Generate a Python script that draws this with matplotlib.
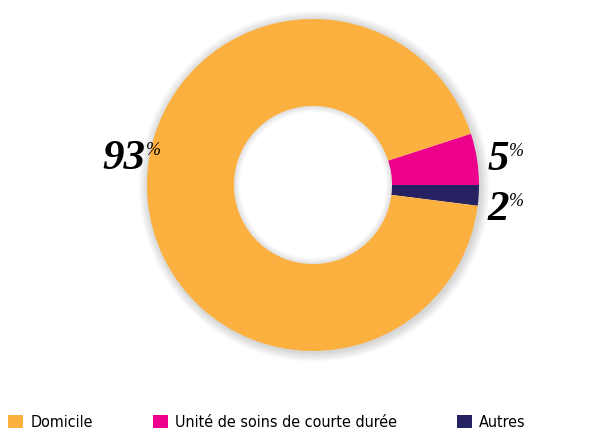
import matplotlib.pyplot as plt
from matplotlib.patches import Patch, Wedge

labels = ["Domicile", "Unité de soins de courte durée", "Autres"]
values = [93, 5, 2]
colors = ["#FBB040", "#EC008C", "#262262"]

R_PX = 166
LIM = 1.12
fig = plt.figure(figsize=(6.05, 4.34), dpi=100)
side = 2 * LIM * R_PX
ax = fig.add_axes([(313 - side / 2) / 605, (434 - 185 - side / 2) / 434, side / 605, side / 434])

# draw counter-clockwise so the small slices sit just around 3 o'clock
order = [2, 1, 0]
wedges, _ = ax.pie(
    [values[i] for i in order],
    colors=[colors[i] for i in order],
    startangle=-values[2] * 3.6,
    counterclock=True,
    radius=1.0,
    wedgeprops=dict(width=0.524, linewidth=0),
)

# soft shadow around the ring and inside the hole
for k in range(8):
    ax.add_patch(Wedge((0.008, -0.008), 1.0 + 0.007 * (k + 1), 0, 360, width=0.05 + 0.007 * (k + 1),
                       color="black", alpha=0.02, linewidth=0, zorder=0))
for k in range(6):
    ax.add_patch(Wedge((0, 0), 0.476, 0, 360, width=0.006 * (k + 1), color="black",
                       alpha=0.02, linewidth=0, zorder=3))

ax.set_xlim(-LIM, LIM)
ax.set_ylim(-LIM, LIM)
ax.set_aspect("equal")
ax.axis("off")

label_pos = {"Domicile": (-1.01, 0.095), "Unité de soins de courte durée": (1.18, 0.09),
             "Autres": (1.18, -0.21)}
num_font = dict(family="Liberation Serif", weight="bold", style="italic")
for lab, val in zip(labels, values):
    x, y = label_pos[lab]
    t = ax.text(x, y, f"{val}", ha="right", va="baseline", fontsize=31,
                clip_on=False, **num_font)
    ax.annotate("%", xy=(1.02, 0.95), xycoords=t, ha="left", va="top",
                fontsize=13, style="italic", family="Liberation Serif",
                annotation_clip=False)

handles = [Patch(facecolor=c, edgecolor="none") for c in colors]
fig.legend(handles, labels, loc="lower left", bbox_to_anchor=(8 / 605, 4 / 434), ncol=3,
           frameon=False, borderpad=0, borderaxespad=0,
           handlelength=0.95, handleheight=0.95, handletextpad=0.45,
           columnspacing=3.75,
           prop=dict(family="DejaVu Sans", stretch="condensed", size=11.5))

fig.savefig("out.png", dpi=100)
